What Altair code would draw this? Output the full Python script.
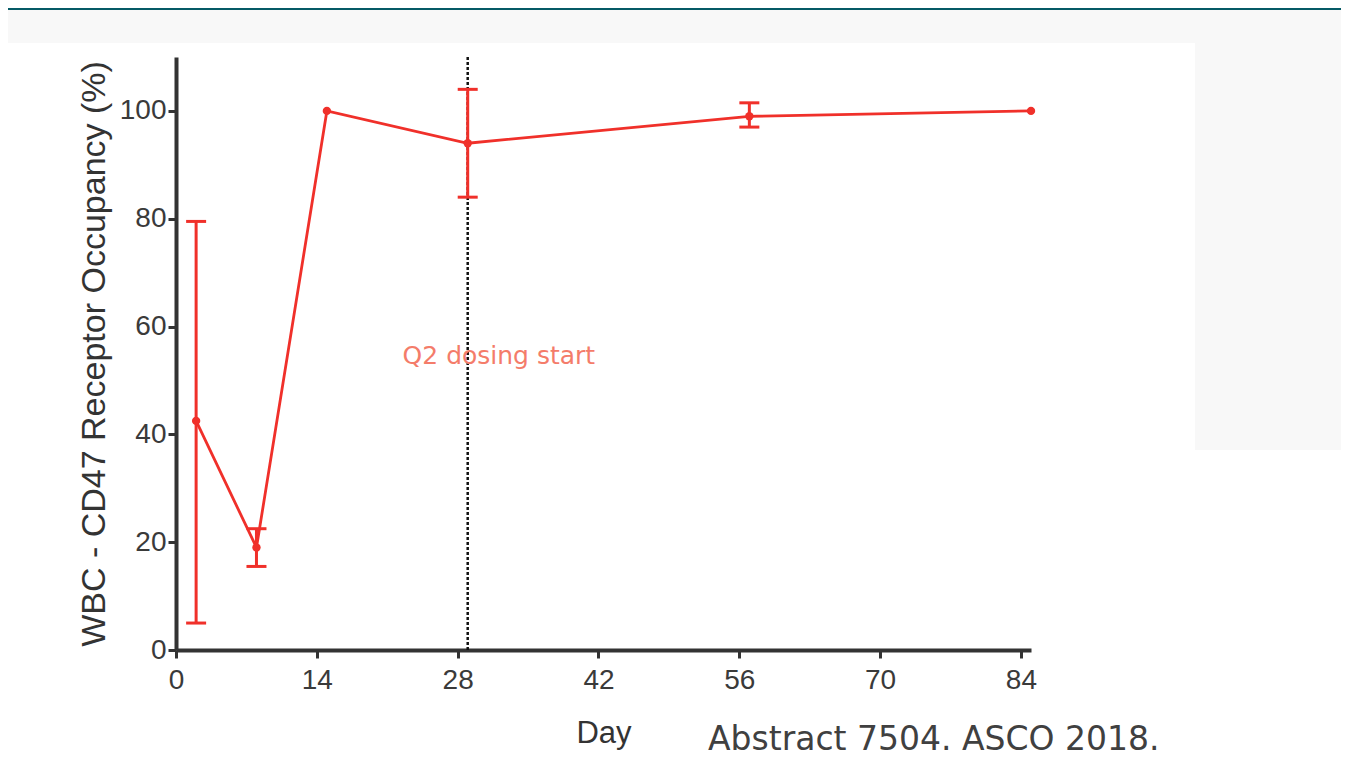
import altair as alt
import pandas as pd

days = [2, 8, 15, 29, 57, 85]
occupancy = [42.5, 19, 100, 94, 99, 100]
err_days = [2, 8, 29, 57]
err_low = [5, 15.5, 84, 97]
err_high = [79.5, 22.5, 104, 101.5]
x_ticks = [0, 14, 28, 42, 56, 70, 84]
y_ticks = [0, 20, 40, 60, 80, 100]
dosing_day = [29]
annotation = ["Q2 dosing start"]
annotation_x = [32.1]
annotation_y = [54.5]
caption = ["Abstract 7504. ASCO 2018."]

RED = "#f0302a"

df = pd.DataFrame({"day": days, "occ": occupancy})
df_err = pd.DataFrame({"day": err_days, "low": err_low, "high": err_high})
df_vline = pd.DataFrame({"day": dosing_day})
df_ann = pd.DataFrame({"day": annotation_x, "occ": annotation_y, "label": annotation})
df_cap = pd.DataFrame({"label": caption})
df_one = pd.DataFrame({"k": [0]})

xscale = alt.Scale(domain=[0, 85], nice=False, zero=False)
yscale = alt.Scale(domain=[0, 110], nice=False)

x_axis = alt.Axis(values=x_ticks, title="Day", grid=False, labelFlush=False)
y_axis = alt.Axis(values=y_ticks, title="WBC - CD47 Receptor Occupancy (%)", grid=False)

# slide decorations (not data)
deco_teal = alt.Chart(df_one).mark_rect(color="#055a66").encode(
    x=alt.value(-168), x2=alt.value(1165), y=alt.value(-49), y2=alt.value(-47))
deco_top = alt.Chart(df_one).mark_rect(color="#f8f8f8").encode(
    x=alt.value(-168), x2=alt.value(1165), y=alt.value(-47), y2=alt.value(-14))
deco_right = alt.Chart(df_one).mark_rect(color="#f8f8f8").encode(
    x=alt.value(1019), x2=alt.value(1165), y=alt.value(-14), y2=alt.value(393))

vline = alt.Chart(df_vline).mark_rule(color="#111111", strokeWidth=2.5, strokeDash=[3, 2]).encode(
    x=alt.X("day:Q", scale=xscale, axis=x_axis),
    y=alt.value(0), y2=alt.value(593))

line = alt.Chart(df).mark_line(color=RED, strokeWidth=2.8).encode(
    x=alt.X("day:Q", scale=xscale, axis=x_axis),
    y=alt.Y("occ:Q", scale=yscale, axis=y_axis))
points = alt.Chart(df).mark_point(color=RED, filled=True, opacity=1, size=70).encode(
    x=alt.X("day:Q", scale=xscale),
    y=alt.Y("occ:Q", scale=yscale))

err_rule = alt.Chart(df_err).mark_rule(color=RED, strokeWidth=3).encode(
    x=alt.X("day:Q", scale=xscale),
    y=alt.Y("low:Q", scale=yscale),
    y2="high:Q")
cap_low = alt.Chart(df_err).mark_tick(color=RED, thickness=3, size=20, orient="horizontal", opacity=1).encode(
    x=alt.X("day:Q", scale=xscale),
    y=alt.Y("low:Q", scale=yscale))
cap_high = alt.Chart(df_err).mark_tick(color=RED, thickness=3, size=20, orient="horizontal", opacity=1).encode(
    x=alt.X("day:Q", scale=xscale),
    y=alt.Y("high:Q", scale=yscale))

ann = alt.Chart(df_ann).mark_text(color="#f47c6a", font="DejaVu Sans", fontSize=25,
                                  align="center", baseline="middle").encode(
    x=alt.X("day:Q", scale=xscale),
    y=alt.Y("occ:Q", scale=yscale),
    text="label:N")

cap = alt.Chart(df_cap).mark_text(color="#404040", font="DejaVu Sans", fontSize=33,
                                  align="left", baseline="middle").encode(
    x=alt.value(532), y=alt.value(683), text="label:N")

chart = alt.layer(
    deco_teal, deco_top, deco_right, vline, line, err_rule, cap_low, cap_high, points, ann, cap
).properties(
    width=855, height=593,
    autosize=alt.AutoSizeParams(type="none"),
    padding={"left": 168, "top": 49, "right": 310, "bottom": 107},
    background="white",
).configure_view(stroke=None).configure_axis(
    domainColor="#333333", domainWidth=4, tickColor="#333333", tickWidth=3, tickSize=8,
    labelFont="Liberation Sans", labelFontSize=28, labelColor="#3a3a3a",
    titleFont="Liberation Sans", titleColor="#333333", titleFontWeight="normal",
).configure_axisX(labelPadding=8, titlePadding=24, titleFontSize=31).configure_axisY(
    labelPadding=2, titlePadding=8, titleFontSize=34)

chart.save("out.html", embed_options={"renderer": "svg", "actions": False})
